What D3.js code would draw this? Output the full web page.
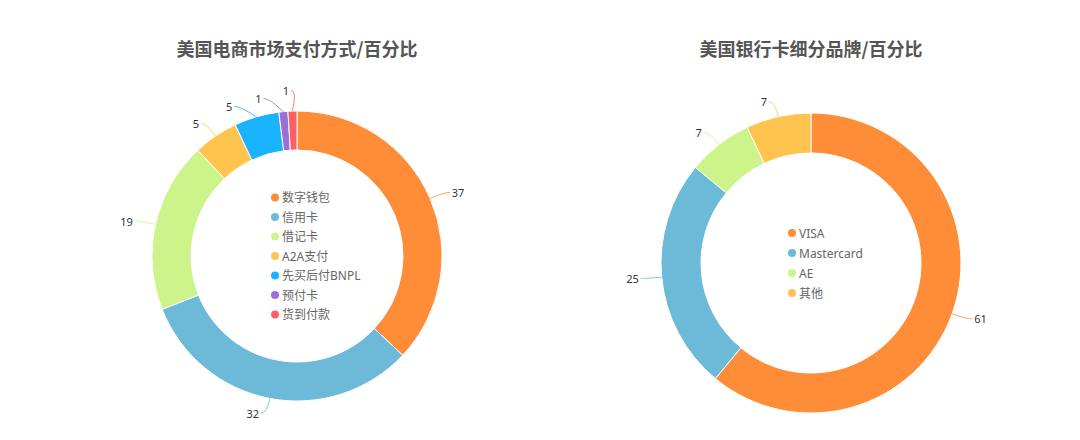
<!DOCTYPE html>
<html>
<head>
<meta charset="utf-8">
<script src="https://cdn.jsdelivr.net/npm/d3@7"></script>
<style>
  body { margin: 0; background: #fff; }
  svg { display: block; font-family: "Noto Sans", "Noto Sans CJK SC", sans-serif; }
</style>
</head>
<body>
<div id="chart"></div>
<script>
// left chart: payment methods
const payCategories = ["数字钱包", "信用卡", "借记卡", "A2A支付", "先买后付BNPL", "预付卡", "货到付款"];
const payValues = [37, 32, 19, 5, 5, 1, 1];
const payColors = ["#ff8c37", "#6db9d8", "#cdf38b", "#ffc44d", "#1ab4fe", "#9b6fd6", "#ff5e62"];

// right chart: card brands
const cardCategories = ["VISA", "Mastercard", "AE", "其他"];
const cardValues = [61, 25, 7, 7];
const cardColors = ["#ff8c37", "#6db9d8", "#cdf38b", "#ffc44d"];

const width = 1080, height = 440;

const svg = d3.select("#chart")
    .append("svg")
    .attr("width", width)
    .attr("height", height);

function donut(opts) {
    const { title, categories, values, colors, cx, cy, r, r0, legendDx, legendStep } = opts;
    const L1 = 15, L2 = 6, minGap = 8;
    const g = svg.append("g").attr("transform", `translate(${cx},${cy})`);

    svg.append("text")
        .attr("x", cx)
        .attr("y", 48)
        .attr("text-anchor", "middle")
        .attr("dominant-baseline", "central")
        .attr("font-family", "'Noto Sans CJK SC', sans-serif")
        .attr("font-size", 18)
        .attr("font-weight", "bold")
        .attr("fill", "#555")
        .text(title);

    const color = d3.scaleOrdinal().domain(categories).range(colors);
    const data = categories.map((c, i) => ({ name: c, value: values[i] }));

    const arcs = d3.pie().sort(null).value(d => d.value)(data);
    const arc = d3.arc().innerRadius(r0).outerRadius(r);

    g.selectAll(".slice")
        .data(arcs)
        .enter()
        .append("path")
        .attr("class", "slice")
        .attr("d", arc)
        .attr("fill", d => color(d.data.name))
        .attr("stroke", "#fff")
        .attr("stroke-width", 1);

    // label layout: radial leader, then de-overlap per side
    const rA = r + L1;
    const labels = arcs.map(d => {
        const a = (d.startAngle + d.endAngle) / 2;
        const dx = Math.sin(a), dy = -Math.cos(a);
        return {
            d, side: dx < 0 ? -1 : 1,
            x1: r * dx, y1: r * dy,
            y0: rA * dy, y: rA * dy
        };
    });

    [-1, 1].forEach(side => {
        const list = labels.filter(l => l.side === side).sort((a, b) => a.y0 - b.y0);
        let groups = list.map(l => [l]);
        let merged = true;
        while (merged) {
            merged = false;
            groups.forEach(gr => {
                const mean = d3.mean(gr, l => l.y0);
                gr.forEach((l, i) => l.y = mean + (i - (gr.length - 1) / 2) * minGap);
            });
            for (let i = 0; i < groups.length - 1; i++) {
                const a = groups[i], b = groups[i + 1];
                if (b[0].y - a[a.length - 1].y < minGap) {
                    groups.splice(i, 2, a.concat(b));
                    merged = true;
                    break;
                }
            }
        }
    });

    labels.forEach(l => {
        l.x2 = l.side * Math.sqrt(Math.max(0, rA * rA - l.y * l.y));
        l.x3 = l.x2 + l.side * L2;
    });

    g.selectAll(".leader")
        .data(labels)
        .enter()
        .append("path")
        .attr("class", "leader")
        .attr("d", l => `M${l.x1},${l.y1}Q${l.x2},${l.y} ${l.x3},${l.y}`)
        .attr("fill", "none")
        .attr("stroke", l => color(l.d.data.name))
        .attr("stroke-opacity", 0.8)
        .attr("stroke-width", 1);

    g.selectAll(".val")
        .data(labels)
        .enter()
        .append("text")
        .attr("class", "val")
        .attr("x", l => l.x3 + l.side * 2)
        .attr("y", l => l.y)
        .attr("text-anchor", l => l.side < 0 ? "end" : "start")
        .attr("dominant-baseline", "central")
        .attr("font-size", 11)
        .attr("fill", "#333")
        .text(l => l.d.data.value);

    // legend inside the hole
    const top = -(categories.length - 1) / 2 * legendStep;
    const legend = g.selectAll(".legend")
        .data(categories)
        .enter()
        .append("g")
        .attr("class", "legend")
        .attr("transform", (d, i) => `translate(${legendDx},${top + i * legendStep})`);

    legend.append("circle")
        .attr("r", 4)
        .attr("fill", d => color(d));

    legend.append("text")
        .attr("x", 7)
        .attr("dominant-baseline", "central")
        .attr("font-size", 12)
        .attr("fill", "#666")
        .text(d => d);
}

donut({
    title: "美国电商市场支付方式/百分比",
    categories: payCategories, values: payValues, colors: payColors,
    cx: 297, cy: 256, r: 145, r0: 106, legendDx: -22, legendStep: 19.5
});

donut({
    title: "美国银行卡细分品牌/百分比",
    categories: cardCategories, values: cardValues, colors: cardColors,
    cx: 811, cy: 263, r: 150, r0: 110, legendDx: -19, legendStep: 20
});
</script>
</body>
</html>
